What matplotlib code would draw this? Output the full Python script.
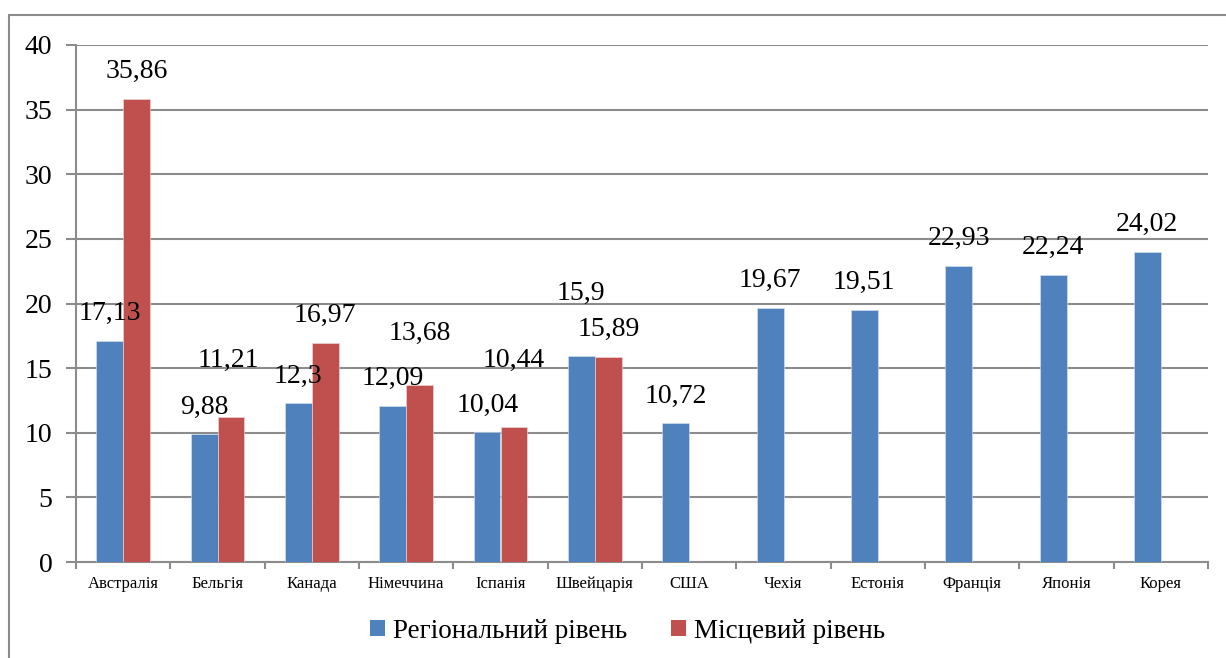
import matplotlib
matplotlib.use("Agg")
import matplotlib.pyplot as plt
import numpy as np
from matplotlib.patches import Rectangle, Patch

categories = ["Австралія", "Бельгія", "Канада", "Німеччина", "Іспанія", "Швейцарія",
              "США", "Чехія", "Естонія", "Франція", "Японія", "Корея"]
regional = [17.13, 9.88, 12.3, 12.09, 10.04, 15.9, 10.72, 19.67, 19.51, 22.93, 22.24, 24.02]
local = [35.86, 11.21, 16.97, 13.68, 10.44, 15.89, None, None, None, None, None, None]
regional_labels = ["17,13", "9,88", "12,3", "12,09", "10,04", "15,9", "10,72",
                   "19,67", "19,51", "22,93", "22,24", "24,02"]
local_labels = ["35,86", "11,21", "16,97", "13,68", "10,44", "15,89"]
series_names = ["Регіональний рівень", "Місцевий рівень"]
yticks = [0, 5, 10, 15, 20, 25, 30, 35, 40]

# style: extra vertical offset (pixels) for label placement
reg_extra = [0, 0, 0, 0, 0, 36, 0, 0, 0, 0, 0, 0]
loc_extra = [0, 30, 0, 25, 40, 0]
reg_dx = [0, 0, 0, 0, 1, 0, 0, 0, 0, 0, 0, 0]
loc_dx = [0, -3, 0, 0, 0, 0]

BLUE = "#4F81BD"
RED = "#C0504D"
GRID = "#8C8C8C"
FONT = "Liberation Serif"

fig = plt.figure(figsize=(12.26, 6.58), dpi=100)
fig.patch.set_facecolor("white")
fig.patches.append(Rectangle((9 / 1226, -0.1), 1.2, 1 - 15 / 658 + 0.1,
                             transform=fig.transFigure, fill=False,
                             edgecolor=GRID, linewidth=1.5, zorder=0))

ax = fig.add_axes([76 / 1226, 1 - 562 / 658, (1208 - 76) / 1226, (562 - 45) / 658])

n = len(categories)
x = np.arange(n)
bw = 0.286
reg_vals = np.array(regional, dtype=float)
loc_vals = np.array([np.nan if v is None else v for v in local], dtype=float)

ax.bar(x + 0.5 - bw, reg_vals, width=bw, align="edge", color=BLUE,
       edgecolor="#DCE6F2", linewidth=0.4, zorder=3)
ax.bar(x + 0.5, loc_vals, width=bw, align="edge", color=RED,
       edgecolor="#F2DCDB", linewidth=0.4, zorder=3)

for i, (v, lab) in enumerate(zip(regional, regional_labels)):
    ax.annotate(lab, (i + 0.5 - bw / 2, v), xytext=(reg_dx[i], 27 + reg_extra[i]),
                textcoords="offset pixels", ha="center", va="center",
                fontsize=20, family=FONT, color="black", zorder=5)
for i, lab in enumerate(local_labels):
    v = local[i]
    ax.annotate(lab, (i + 0.5 + bw / 2, v), xytext=(loc_dx[i], 27 + loc_extra[i]),
                textcoords="offset pixels", ha="center", va="center",
                fontsize=20, family=FONT, color="black", zorder=5)

ax.set_xlim(0, n)
ax.set_ylim(0, 40)
ax.set_yticks(yticks)
ax.set_yticklabels([str(t) for t in yticks], fontsize=20, family=FONT)
ax.yaxis.grid(True, color=GRID, linewidth=1.5, zorder=0)
ax.set_axisbelow(True)

ax.set_xticks(np.arange(n + 1))
ax.set_xticklabels([""] * (n + 1))
ax.set_xticks(x + 0.5, minor=True)
ax.set_xticklabels(categories, minor=True, fontsize=12, family=FONT)
ax.tick_params(axis="x", which="major", length=5, width=1.5, color=GRID, direction="out")
ax.tick_params(axis="x", which="minor", length=0, pad=10)
ax.tick_params(axis="y", length=7, width=1.5, color=GRID, pad=10)

for s in ["top", "right"]:
    ax.spines[s].set_visible(False)
for s in ["left", "bottom"]:
    ax.spines[s].set_color(GRID)
    ax.spines[s].set_linewidth(1.5)

handles = [Patch(facecolor=BLUE, edgecolor="none"), Patch(facecolor=RED, edgecolor="none")]
fig.legend(handles, series_names, loc="center", bbox_to_anchor=(0.512, 1 - 631 / 658),
           ncol=2, frameon=False, prop={"family": FONT, "size": 19.5},
           handlelength=0.55, handleheight=0.55, handletextpad=0.3, columnspacing=1.6)

fig.savefig("out.png", dpi=100, facecolor="white")
